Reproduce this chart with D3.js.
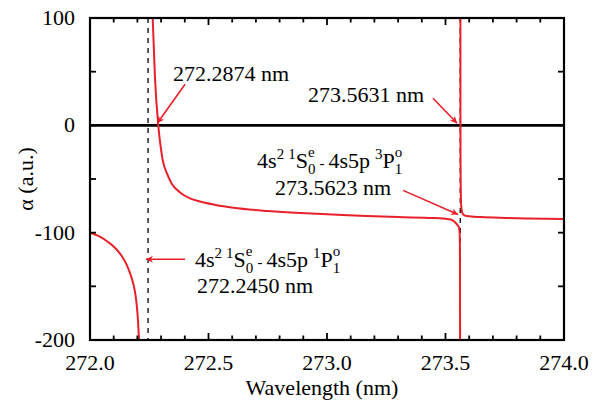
<!DOCTYPE html>
<html>
<head>
<meta charset="UTF-8">
<script src="https://d3js.org/d3.v7.min.js"></script>
<style>
  @font-face {
    font-family: 'ChartSerif';
    src: local('Liberation Serif'), local('LiberationSerif'), local('LiberationSerif-Regular'),
         local('Times New Roman'), local('Tinos');
  }
</style>
</head>
<body style="margin:0">
<script>
    // values: [wavelength nm, alpha a.u.]
    const branchLeft = [
      [272.0, -100], [272.04, -103.5], [272.076, -108.7], [272.105, -114],
      [272.132, -121], [272.155, -130], [272.174, -141], [272.188, -153],
      [272.195, -163], [272.201, -177], [272.207, -200]
    ];
    const branchMiddle = [
      [272.2645, 100], [272.274, 45], [272.288, 0], [272.297, -18],
      [272.307, -32.6], [272.325, -45], [272.345, -54.4], [272.38, -62.5],
      [272.422, -68], [272.464, -71], [272.53, -74.2], [272.605, -76.8],
      [272.75, -79.8], [272.886, -81.7], [273.0, -82.8], [273.167, -84.5],
      [273.3, -85.5], [273.449, -86.3], [273.512, -87.4], [273.527, -88.2],
      [273.539, -90], [273.549, -92.5], [273.5565, -95], [273.5595, -100],
      [273.5607, -110], [273.5612, -140], [273.5616, -200]
    ];
    const branchRight = [
      [273.5629, 100], [273.5631, 0], [273.5636, -40], [273.5645, -62],
      [273.566, -74], [273.569, -80], [273.575, -83], [273.59, -84.5],
      [273.65, -85.5], [273.75, -86.3], [273.85, -86.8], [274.0, -87.3]
    ];
    const resonances = [272.2450, 273.5623];

    const xTicks = [272.0, 272.5, 273.0, 273.5, 274.0];
    const xMinorTicks = d3.range(272.0, 274.0001, 0.1);
    const yTicks = [-200, -100, 0, 100];
    const yMinorTicks = [-150, -50, 50];

    const width = 609, height = 403;
    const margin = { top: 18, right: 45, bottom: 63, left: 90 };
    const fam = 'Times New Roman';

    const x = d3.scaleLinear().domain([272, 274]).range([margin.left, width - margin.right]);
    const y = d3.scaleLinear().domain([-200, 100]).range([height - margin.bottom, margin.top]);

    const svg = d3.select('body')
      .append('svg')
        .attr('width', width)
        .attr('height', height);

    svg.append('defs').append('clipPath')
        .attr('id', 'plot')
      .append('rect')
        .attr('x', margin.left)
        .attr('y', margin.top)
        .attr('width', x.range()[1] - margin.left)
        .attr('height', y.range()[0] - margin.top);

    svg.select('defs').append('marker')
        .attr('id', 'head')
        .attr('viewBox', '0 0 10 10')
        .attr('refX', 10).attr('refY', 5)
        .attr('markerWidth', 8).attr('markerHeight', 7)
        .attr('markerUnits', 'userSpaceOnUse')
        .attr('orient', 'auto')
      .append('path')
        .attr('d', 'M0,0 L10,5 L0,10 L3,5 Z')
        .attr('fill', '#e8202a');

    // dashed lines at the resonances
    svg.append('g')
      .selectAll('line')
      .data(resonances)
      .join('line')
        .attr('x1', d => x(d)).attr('x2', d => x(d))
        .attr('y1', y(100)).attr('y2', y(-200))
        .attr('stroke', '#000')
        .attr('stroke-width', 1.3)
        .attr('stroke-dasharray', '5,5');

    // zero line
    svg.append('line')
      .attr('x1', x(272)).attr('x2', x(274))
      .attr('y1', y(0)).attr('y2', y(0))
      .attr('stroke', '#000')
      .attr('stroke-width', 2.6);

    const line = d3.line()
      .x(d => x(d[0]))
      .y(d => y(d[1]))
      .curve(d3.curveMonotoneX);

    svg.append('g')
        .attr('clip-path', 'url(#plot)')
      .selectAll('path')
      .data([branchLeft, branchMiddle, branchRight])
      .join('path')
        .attr('d', line)
        .attr('fill', 'none')
        .attr('stroke', '#e8202a')
        .attr('stroke-width', 2);

    // frame
    svg.append('rect')
      .attr('x', margin.left)
      .attr('y', margin.top)
      .attr('width', x.range()[1] - margin.left)
      .attr('height', y.range()[0] - margin.top)
      .attr('fill', 'none')
      .attr('stroke', '#000')
      .attr('stroke-width', 2.2);

    // inward ticks on all four sides
    const ticks = svg.append('g').attr('stroke', '#000').attr('stroke-width', 1.8);
    const isMajor = v => xTicks.some(t => Math.abs(t - v) < 1e-6);
    xMinorTicks.forEach(v => {
      const len = isMajor(v) ? 7 : 4.5;
      ticks.append('line').attr('x1', x(v)).attr('x2', x(v))
        .attr('y1', y(-200)).attr('y2', y(-200) - len);
      ticks.append('line').attr('x1', x(v)).attr('x2', x(v))
        .attr('y1', y(100)).attr('y2', y(100) + len);
    });
    yTicks.concat(yMinorTicks).forEach(v => {
      ticks.append('line').attr('y1', y(v)).attr('y2', y(v))
        .attr('x1', x(272)).attr('x2', x(272) + 6);
      ticks.append('line').attr('y1', y(v)).attr('y2', y(v))
        .attr('x1', x(274)).attr('x2', x(274) - 6);
    });

    // tick labels
    svg.append('g')
      .selectAll('text')
      .data(xTicks)
      .join('text')
        .attr('x', d => x(d))
        .attr('y', y(-200) + 30)
        .attr('text-anchor', 'middle')
        .attr('font-size', 22)
        .text(d => d.toFixed(1));

    svg.append('g')
      .selectAll('text')
      .data(yTicks)
      .join('text')
        .attr('x', x(272) - 15)
        .attr('y', d => y(d) + 7)
        .attr('text-anchor', 'end')
        .attr('font-size', 22)
        .text(d => d);

    svg.append('text')
      .attr('x', (x(272) + x(274)) / 2 - 5)
      .attr('y', height - 8)
      .attr('text-anchor', 'middle')
      .attr('font-size', 22)
      .text('Wavelength (nm)');

    svg.append('text')
      .attr('transform', `translate(33, ${(y(100) + y(-200)) / 2}) rotate(-90)`)
      .attr('text-anchor', 'middle')
      .attr('font-size', 22)
      .text('α (a.u.)');

    // transition labels: flowing tspans, super/subscripts stacked with dx
    const big = 22, small = 15;
    const SUP = -11, SUB = 6, UP = -9;
    function transition(upper) {
      // [text, size, baseline offset, dx]
      return [
        ['4s', big, 0, 0], ['2', small, UP, 0], ['1', small, UP, 4], ['S', big, 0, 0],
        ['0', small, SUB, 0], ['e', small, SUP, -0.5 * small],
        ['-', small, 0, 0.06 * small + 4], ['4s5p', big, 0, 4],
        [upper, small, UP, 5], ['P', big, 0, 0],
        ['1', small, SUB, 0], ['o', small, SUP, -0.5 * small]
      ];
    }
    function richText(px, py, parts) {
      const txt = svg.append('text')
        .attr('x', px).attr('y', py);
      let prev = 0;
      parts.forEach(([t, size, off, dx]) => {
        txt.append('tspan')
          .attr('dx', dx)
          .attr('dy', off - prev)
          .attr('font-size', size)
          .text(t);
        prev = off;
      });
    }

    richText(x(272.705), y(-40), transition('3'));
    richText(x(272.443), y(-132.3), transition('1'));

    const labels = [
      { t: '272.2874 nm', lx: 272.350, ly: 41 },
      { t: '273.5631 nm', lx: 272.920, ly: 21.4 },
      { t: '273.5623 nm', lx: 272.781, ly: -65.2 },
      { t: '272.2450 nm', lx: 272.451, ly: -156.5 }
    ];
    svg.append('g')
      .selectAll('text')
      .data(labels)
      .join('text')
        .attr('x', d => x(d.lx))
        .attr('y', d => y(d.ly))
        .attr('font-size', big)
        .text(d => d.t);

    const arrows = [
      [272.401, 38.2, 272.284, 2],
      [273.447, 25.2, 273.549, 2],
      [273.321, -60.6, 273.553, -83],
      [272.401, -124.8, 272.236, -124.8]
    ];
    svg.append('g')
      .selectAll('line')
      .data(arrows)
      .join('line')
        .attr('x1', d => x(d[0])).attr('y1', d => y(d[1]))
        .attr('x2', d => x(d[2])).attr('y2', d => y(d[3]))
        .attr('stroke', '#e8202a')
        .attr('stroke-width', 1.6)
        .attr('marker-end', 'url(#head)');

    // same font on every text, set last so nothing overrides it
    svg.selectAll('text, tspan').attr('font-family', fam);
</script>
</body>
</html>
